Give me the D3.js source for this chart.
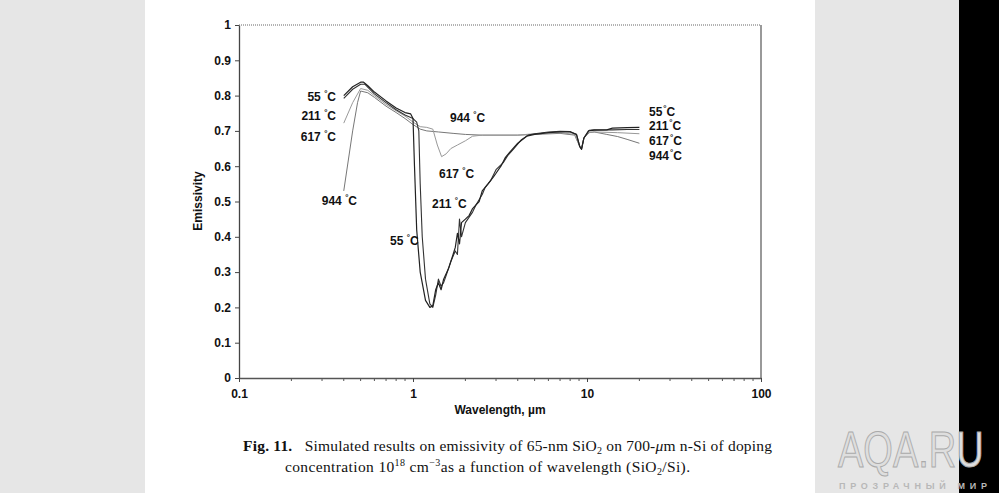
<!DOCTYPE html>
<html><head><meta charset="utf-8">
<script src="https://cdn.jsdelivr.net/npm/d3@7"></script>
<style>
html,body{margin:0;padding:0;background:#fff;}
svg{display:block;}
</style></head>
<body>
<svg id="chart" width="999" height="493"></svg>
<script>
// ---------- data ----------
const yTicks = [0,0.1,0.2,0.3,0.4,0.5,0.6,0.7,0.8,0.9,1];
const yTickLabels = ["0","0.1","0.2","0.3","0.4","0.5","0.6","0.7","0.8","0.9","1"];
const xTicks = [0.1,1,10,100];
const xTickLabels = ["0.1","1","10","100"];

const wl55 = [0.40,0.45,0.50,0.52,0.55,0.60,0.70,0.80,0.90,0.97,1.00,1.02,1.05,1.10,1.18,1.25,1.30,1.35,1.40,1.45,1.50,1.60,1.70,1.75,1.80,1.85,1.90,2.0,2.1,2.2,2.4,2.5,2.7,2.9,3.0,3.2,3.4,3.6,4.0,4.5,5.0,6.0,7.0,8.0,8.7,9.1,9.3,9.6,10.2,11,13,14,17,20];
const em55 = [0.800,0.825,0.838,0.838,0.828,0.810,0.785,0.765,0.752,0.748,0.735,0.60,0.42,0.30,0.22,0.200,0.205,0.25,0.27,0.25,0.28,0.31,0.35,0.37,0.41,0.38,0.44,0.45,0.46,0.48,0.50,0.53,0.55,0.57,0.58,0.60,0.625,0.64,0.665,0.685,0.690,0.695,0.697,0.697,0.690,0.655,0.648,0.68,0.700,0.702,0.703,0.708,0.709,0.710];

const wl211 = [0.40,0.45,0.50,0.53,0.60,0.70,0.80,0.90,1.00,1.05,1.08,1.10,1.13,1.18,1.25,1.30,1.35,1.40,1.45,1.50,1.55,1.65,1.75,1.80,1.85,1.90,2.0,2.2,2.3,2.5,2.6,2.8,3.0,3.3,3.5,3.8,4.2,4.6,5.0,6.0,7.0,8.0,8.7,9.1,9.3,9.6,10.3,11,14,17,20];
const em211 = [0.792,0.818,0.832,0.832,0.805,0.780,0.760,0.745,0.735,0.725,0.700,0.55,0.40,0.28,0.21,0.200,0.235,0.28,0.26,0.27,0.29,0.33,0.36,0.35,0.45,0.40,0.44,0.47,0.49,0.52,0.54,0.56,0.59,0.61,0.63,0.65,0.675,0.688,0.692,0.697,0.699,0.698,0.690,0.655,0.648,0.68,0.702,0.703,0.703,0.704,0.704];

const wl617 = [0.40,0.45,0.50,0.55,0.60,0.70,0.80,0.90,1.00,1.10,1.20,1.30,1.38,1.46,1.55,1.65,1.80,2.0,2.2,2.5,3,4,5,7,8.5,9.1,9.3,9.6,10.2,11,15,20];
const em617 = [0.722,0.780,0.820,0.815,0.800,0.775,0.757,0.742,0.725,0.712,0.710,0.705,0.660,0.627,0.635,0.650,0.660,0.672,0.685,0.688,0.688,0.688,0.692,0.695,0.690,0.655,0.650,0.680,0.695,0.697,0.695,0.692];

const wl944 = [0.40,0.45,0.48,0.50,0.55,0.60,0.70,0.80,0.90,1.00,1.10,1.20,1.40,1.70,2.0,2.5,3,4,5,7,8.5,9.1,9.3,9.6,10.3,11,13,15,17,20];
const em944 = [0.530,0.700,0.780,0.813,0.808,0.795,0.770,0.752,0.735,0.718,0.705,0.700,0.697,0.693,0.690,0.688,0.688,0.688,0.690,0.693,0.688,0.655,0.648,0.680,0.695,0.697,0.690,0.684,0.676,0.665];

const seriesNames = ["55","211","617","944"];

// ---------- drawing ----------
const svg = d3.select("#chart");
// page backgrounds
svg.append("rect").attr("x",0).attr("y",0).attr("width",999).attr("height",493).attr("fill","#e6e6e6");
svg.append("rect").attr("x",145).attr("y",0).attr("width",670).attr("height",493).attr("fill","#ffffff");
svg.append("rect").attr("x",959).attr("y",0).attr("width",40).attr("height",493).attr("fill","#000000");

const x = d3.scaleLog().domain([0.1,100]).range([239,761]);
const y = d3.scaleLinear().domain([0,1]).range([378,25]);

const sans = "'Liberation Sans', Arial, sans-serif";
const serif = "'Liberation Serif', 'Times New Roman', serif";

// plot frame (top & right)
svg.append("line").attr("x1",x(0.1)).attr("x2",x(100)).attr("y1",y(1)).attr("y2",y(1))
  .attr("stroke","#666").attr("stroke-width",1).attr("stroke-dasharray","1,1");
svg.append("line").attr("x1",x(100)).attr("x2",x(100)).attr("y1",y(1)).attr("y2",y(0))
  .attr("stroke","#777").attr("stroke-width",1.5);

// y axis
const yAxis = d3.axisLeft(y).tickValues(yTicks).tickFormat((d,i)=>yTickLabels[i]).tickSize(4).tickSizeOuter(0);
const gy = svg.append("g").attr("transform",`translate(${x(0.1)},0)`).call(yAxis);
gy.select(".domain").attr("stroke","#444").attr("stroke-width",1.3);
gy.selectAll(".tick line").attr("stroke","#444");
gy.selectAll("text").attr("font-family",sans).attr("font-weight","bold").attr("font-size",12).attr("fill","#111").attr("x",-8);

// x axis
const xAxis = d3.axisBottom(x).tickValues(xTicks).tickFormat((d,i)=>xTickLabels[i]).tickSize(4).tickSizeOuter(0);
const gx = svg.append("g").attr("transform",`translate(0,${y(0)})`).call(xAxis);
gx.select(".domain").attr("stroke","#555").attr("stroke-width",1.3);
gx.selectAll(".tick line").attr("stroke","#444");
gx.selectAll("text").attr("font-family",sans).attr("font-weight","bold").attr("font-size",12).attr("fill","#111").attr("dy","1.05em");
// minor ticks
const minor = [];
[0.1,1,10].forEach(b=>{for(let k=2;k<=9;k++) minor.push(b*k);});
svg.append("g").selectAll("line").data(minor).join("line")
  .attr("x1",d=>x(d)).attr("x2",d=>x(d)).attr("y1",y(0)).attr("y2",y(0)+3)
  .attr("stroke","#555").attr("stroke-width",1);

// axis titles
svg.append("text").attr("x",500).attr("y",414).attr("text-anchor","middle")
  .attr("font-family",sans).attr("font-weight","bold").attr("font-size",12).attr("fill","#111").text("Wavelength, µm");
svg.append("text").attr("transform","translate(202,201) rotate(-90)").attr("text-anchor","middle")
  .attr("font-family",sans).attr("font-weight","bold").attr("font-size",12).attr("fill","#111").text("Emissivity");

// curves
const line = d3.line().x(d=>x(d[0])).y(d=>y(d[1]));
const series = [
  {wl:wl944, em:em944, color:"#777", w:1},
  {wl:wl617, em:em617, color:"#999", w:1},
  {wl:wl211, em:em211, color:"#333", w:1.1},
  {wl:wl55,  em:em55,  color:"#222", w:1.2},
];
series.forEach(s=>{
  svg.append("path").datum(s.wl.map((w,i)=>[w,s.em[i]]))
    .attr("d",line).attr("fill","none").attr("stroke",s.color).attr("stroke-width",s.w).attr("stroke-linejoin","round");
});

// labels
function label(px,py,name,anchor){
  const t = svg.append("text").attr("x",px).attr("y",py).attr("text-anchor",anchor||"start")
    .attr("font-family",sans).attr("font-weight","bold").attr("font-size",12).attr("fill","#111");
  t.append("tspan").text(name+" ");
  t.append("tspan").attr("dy",-5).attr("font-size",8).text("°");
  t.append("tspan").attr("dy",5).text("C");
}
label(336,101,seriesNames[0],"end");
label(336,120,seriesNames[1],"end");
label(336,141,seriesNames[2],"end");
label(357,205,seriesNames[3],"end");
label(450,122,seriesNames[3]);
label(439,178,seriesNames[2]);
label(432,208,seriesNames[1]);
label(390,245,seriesNames[0]);
function labelR(px,py,name){
  const t = svg.append("text").attr("x",px).attr("y",py)
    .attr("font-family",sans).attr("font-weight","bold").attr("font-size",12).attr("fill","#111");
  t.append("tspan").text(name);
  t.append("tspan").attr("dy",-5).attr("dx",1).attr("font-size",8).text("°");
  t.append("tspan").attr("dy",5).text("C");
}
labelR(649,116,seriesNames[0]);
labelR(649,130,seriesNames[1]);
labelR(649,145,seriesNames[2]);
labelR(649,160,seriesNames[3]);

// caption
const c1 = svg.append("text").attr("x",243).attr("y",451).attr("font-family",serif).attr("font-size",15.5).attr("fill","#111")
  .attr("textLength",529).attr("lengthAdjust","spacing");
c1.append("tspan").attr("font-weight","bold").text("Fig. 11.");
c1.append("tspan").text("\u00a0\u00a0 Simulated results on emissivity of 65-nm SiO");
c1.append("tspan").attr("font-size",10).attr("dy",3).text("2");
c1.append("tspan").attr("dy",-3).text(" on 700-");
c1.append("tspan").attr("font-style","italic").text("μ");
c1.append("tspan").text("m n-Si of doping");

const c2 = svg.append("text").attr("x",285).attr("y",472).attr("font-family",serif).attr("font-size",15.5).attr("fill","#111")
  .attr("textLength",405).attr("lengthAdjust","spacing");
c2.append("tspan").text("concentration 10");
c2.append("tspan").attr("font-size",10).attr("dy",-6).text("18");
c2.append("tspan").attr("dy",6).text(" cm");
c2.append("tspan").attr("font-size",10).attr("dy",-6).text("−3");
c2.append("tspan").attr("dy",6).text("as a function of wavelength (SiO");
c2.append("tspan").attr("font-size",10).attr("dy",3).text("2");
c2.append("tspan").attr("dy",-3).text("/Si).");

// watermark
svg.append("text").attr("transform","translate(838,467) scale(1,1.3)").attr("font-family",sans).attr("font-size",38)
  .attr("fill","#dedede").attr("stroke","#aaaaaa").attr("stroke-width",0.8).text("AQA.RU");
svg.append("text").attr("x",839).attr("y",489).attr("font-family",sans).attr("font-size",9).attr("font-weight","bold")
  .attr("fill","#b8b8b8").attr("textLength",148).attr("lengthAdjust","spacing").text("ПРОЗРАЧНЫЙ МИР");
</script>
</body></html>
